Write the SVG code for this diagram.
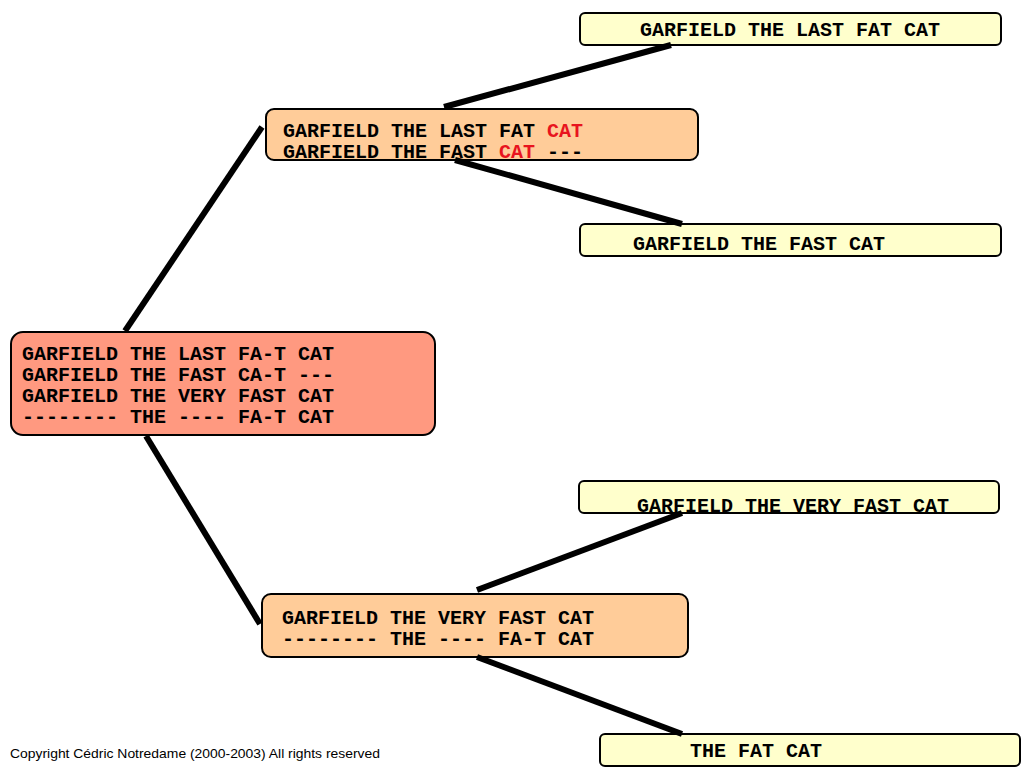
<svg xmlns="http://www.w3.org/2000/svg" width="1024" height="768" viewBox="0 0 1024 768">
<style>
.box{stroke:#000;stroke-width:2}
.root{fill:#FF9980}
.mid{fill:#FFCC99}
.leaf{fill:#FFFFCC}
.t{font-family:"Liberation Mono","Courier New",monospace;font-weight:bold;font-size:20px;fill:#000;white-space:pre}
.red{fill:#E8141E}
.edge{stroke:#000;stroke-width:6;stroke-linecap:butt;fill:none}
.copy{font-family:"Comic Sans MS","Liberation Sans",sans-serif;font-size:13px;fill:#000}
</style>
<rect width="1024" height="768" fill="#fff"/>
<g id="root">
<rect class="box root" x="11" y="332" width="424" height="103" rx="12"/>
<text class="t" xml:space="preserve"><tspan x="22" y="360">GARFIELD THE LAST FA-T CAT</tspan><tspan x="22" y="381">GARFIELD THE FAST CA-T ---</tspan><tspan x="22" y="402">GARFIELD THE VERY FAST CAT</tspan><tspan x="22" y="423">-------- THE ---- FA-T CAT</tspan></text>
</g>
<g id="midTop">
<rect class="box mid" x="266" y="109" width="432" height="51" rx="8"/>
<text class="t" xml:space="preserve"><tspan x="283" y="137">GARFIELD THE LAST FAT <tspan class="red">CAT</tspan></tspan><tspan x="283" y="158">GARFIELD THE FAST <tspan class="red">CAT</tspan> ---</tspan></text>
</g>
<g id="midBottom">
<rect class="box mid" x="262" y="594" width="426" height="63" rx="9"/>
<text class="t" xml:space="preserve"><tspan x="282" y="624">GARFIELD THE VERY FAST CAT</tspan><tspan x="282" y="645">-------- THE ---- FA-T CAT</tspan></text>
</g>
<g id="leaf1">
<rect class="box leaf" x="580" y="13" width="421" height="32" rx="5"/>
<text class="t" x="640" y="36">GARFIELD THE LAST FAT CAT</text>
</g>
<g id="leaf2">
<rect class="box leaf" x="580" y="224" width="421" height="32" rx="5"/>
<text class="t" x="633" y="250">GARFIELD THE FAST CAT</text>
</g>
<g id="leaf3">
<rect class="box leaf" x="579" y="481" width="420" height="32" rx="5"/>
<text class="t" x="637" y="512">GARFIELD THE VERY FAST CAT</text>
</g>
<g id="leaf4">
<rect class="box leaf" x="600" y="734" width="420" height="32" rx="5"/>
<text class="t" x="690" y="757">THE FAT CAT</text>
</g>
<g id="connectors">
<line class="edge" x1="125" y1="331" x2="262" y2="127"/>
<line class="edge" x1="146" y1="436" x2="260" y2="624"/>
<line class="edge" x1="444" y1="107" x2="671" y2="45"/>
<line class="edge" x1="455" y1="160" x2="682" y2="224"/>
<line class="edge" x1="477" y1="590" x2="682" y2="513"/>
<line class="edge" x1="477" y1="657" x2="682" y2="734"/>
</g>
<text class="copy" x="10" y="758" textLength="370" lengthAdjust="spacingAndGlyphs">Copyright Cédric Notredame (2000-2003) All rights reserved</text>
</svg>
